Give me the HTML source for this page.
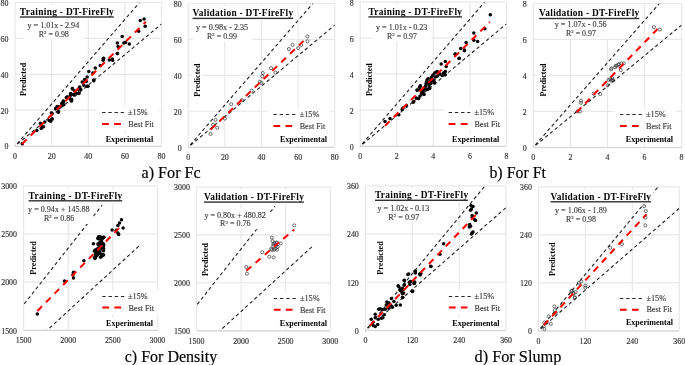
<!DOCTYPE html>
<html><head><meta charset="utf-8"><style>
html,body{margin:0;padding:0;background:#fff;}
body{width:685px;height:365px;overflow:hidden;}
svg{display:block;font-family:"Liberation Serif", serif;will-change:transform;}
</style></head><body>
<svg width="685" height="365" viewBox="0 0 685 365">
<rect width="685" height="365" fill="#fff"/>
<g>
<line x1="15.1" y1="2.5" x2="15.1" y2="146.1" stroke="#e8e8e8" stroke-width="1.2"/>
<line x1="15.1" y1="146.1" x2="161.5" y2="146.1" stroke="#e8e8e8" stroke-width="1.2"/>
<line x1="51.7" y1="2.5" x2="51.7" y2="146.1" stroke="#e8e8e8" stroke-width="1.2"/>
<line x1="15.1" y1="110.2" x2="161.5" y2="110.2" stroke="#e8e8e8" stroke-width="1.2"/>
<line x1="88.3" y1="2.5" x2="88.3" y2="146.1" stroke="#e8e8e8" stroke-width="1.2"/>
<line x1="15.1" y1="74.3" x2="161.5" y2="74.3" stroke="#e8e8e8" stroke-width="1.2"/>
<line x1="124.9" y1="2.5" x2="124.9" y2="146.1" stroke="#e8e8e8" stroke-width="1.2"/>
<line x1="15.1" y1="38.4" x2="161.5" y2="38.4" stroke="#e8e8e8" stroke-width="1.2"/>
<line x1="161.5" y1="2.5" x2="161.5" y2="146.1" stroke="#e8e8e8" stroke-width="1.2"/>
<line x1="15.1" y1="2.5" x2="161.5" y2="2.5" stroke="#e8e8e8" stroke-width="1.2"/>
<line x1="15.1" y1="146.4" x2="161.5" y2="146.4" stroke="#d4d4d4" stroke-width="1"/>
<text x="15.1" y="159.1" font-size="7.9" text-anchor="middle" fill="#333" stroke="#333" stroke-width="0.15">0</text>
<text x="8.5" y="149.4" font-size="7.9" text-anchor="end" fill="#333" stroke="#333" stroke-width="0.15">0</text>
<text x="51.7" y="159.1" font-size="7.9" text-anchor="middle" fill="#333" stroke="#333" stroke-width="0.15">20</text>
<text x="8.5" y="113.5" font-size="7.9" text-anchor="end" fill="#333" stroke="#333" stroke-width="0.15">20</text>
<text x="88.3" y="159.1" font-size="7.9" text-anchor="middle" fill="#333" stroke="#333" stroke-width="0.15">40</text>
<text x="8.5" y="77.6" font-size="7.9" text-anchor="end" fill="#333" stroke="#333" stroke-width="0.15">40</text>
<text x="124.9" y="159.1" font-size="7.9" text-anchor="middle" fill="#333" stroke="#333" stroke-width="0.15">60</text>
<text x="8.5" y="41.7" font-size="7.9" text-anchor="end" fill="#333" stroke="#333" stroke-width="0.15">60</text>
<text x="161.5" y="159.1" font-size="7.9" text-anchor="middle" fill="#333" stroke="#333" stroke-width="0.15">80</text>
<text x="8.5" y="5.8" font-size="7.9" text-anchor="end" fill="#333" stroke="#333" stroke-width="0.15">80</text>
<clipPath id="c_fc_train"><rect x="15.1" y="2.5" width="146.4" height="143.6"/></clipPath>
<g clip-path="url(#c_fc_train)">
<line x1="15.1" y1="146.1" x2="139.54" y2="2.5" stroke="#1e1e1e" stroke-width="1.1" stroke-dasharray="3.4 2.8" stroke-dashoffset="3.1"/>
<line x1="15.1" y1="146.1" x2="161.5" y2="24.04" stroke="#1e1e1e" stroke-width="1.1" stroke-dasharray="3.4 2.8" stroke-dashoffset="3.1"/>
</g>
<circle cx="22.3" cy="143.7" r="1.75"/>
<circle cx="36.8" cy="130.6" r="1.75"/>
<circle cx="40.4" cy="123.3" r="1.75"/>
<circle cx="41.2" cy="128.4" r="1.75"/>
<circle cx="41.9" cy="127" r="1.75"/>
<circle cx="43.5" cy="126.7" r="1.75"/>
<circle cx="44.8" cy="121.9" r="1.75"/>
<circle cx="49.1" cy="120.4" r="1.75"/>
<circle cx="50.6" cy="121.2" r="1.75"/>
<circle cx="52" cy="119" r="1.75"/>
<circle cx="52" cy="113.2" r="1.75"/>
<circle cx="55.7" cy="108.8" r="1.75"/>
<circle cx="57.1" cy="106.6" r="1.75"/>
<circle cx="58.6" cy="111.7" r="1.75"/>
<circle cx="58.6" cy="108" r="1.75"/>
<circle cx="62.2" cy="105.2" r="1.75"/>
<circle cx="63.7" cy="101.5" r="1.75"/>
<circle cx="66.6" cy="97.2" r="1.75"/>
<circle cx="70.2" cy="95.7" r="1.75"/>
<circle cx="71.7" cy="99.4" r="1.75"/>
<circle cx="51.4" cy="112.9" r="1.75"/>
<circle cx="52.1" cy="119" r="1.75"/>
<circle cx="55.5" cy="108.8" r="1.75"/>
<circle cx="58.2" cy="112.2" r="1.75"/>
<circle cx="58.9" cy="106.7" r="1.75"/>
<circle cx="63" cy="101.9" r="1.75"/>
<circle cx="63.7" cy="104.7" r="1.75"/>
<circle cx="66.4" cy="97.8" r="1.75"/>
<circle cx="70.5" cy="93.7" r="1.75"/>
<circle cx="71.2" cy="100.5" r="1.75"/>
<circle cx="72.6" cy="88.9" r="1.75"/>
<circle cx="74" cy="95.1" r="1.75"/>
<circle cx="76" cy="93" r="1.75"/>
<circle cx="78.8" cy="93" r="1.75"/>
<circle cx="79.5" cy="87.5" r="1.75"/>
<circle cx="80.8" cy="89.6" r="1.75"/>
<circle cx="82.2" cy="82.1" r="1.75"/>
<circle cx="87" cy="86.2" r="1.75"/>
<circle cx="86.3" cy="81.4" r="1.75"/>
<circle cx="93.8" cy="80.7" r="1.75"/>
<circle cx="117.5" cy="53.6" r="1.75"/>
<circle cx="103.6" cy="58.2" r="1.75"/>
<circle cx="103.1" cy="60.2" r="1.75"/>
<circle cx="109.3" cy="59.9" r="1.75"/>
<circle cx="112.6" cy="60.2" r="1.75"/>
<circle cx="100.3" cy="65.6" r="1.75"/>
<circle cx="95.3" cy="68.1" r="1.75"/>
<circle cx="88.8" cy="71.4" r="1.75"/>
<circle cx="92.9" cy="73" r="1.75"/>
<circle cx="87.1" cy="77.1" r="1.75"/>
<circle cx="93.7" cy="79.9" r="1.75"/>
<circle cx="84.7" cy="79.6" r="1.75"/>
<circle cx="83.8" cy="85.3" r="1.75"/>
<circle cx="88" cy="86.2" r="1.75"/>
<circle cx="79.7" cy="87" r="1.75"/>
<circle cx="78.1" cy="89.5" r="1.75"/>
<circle cx="72.3" cy="88.6" r="1.75"/>
<circle cx="74.8" cy="91.1" r="1.75"/>
<circle cx="70.7" cy="93.6" r="1.75"/>
<circle cx="73.2" cy="94.4" r="1.75"/>
<circle cx="78.9" cy="93.6" r="1.75"/>
<circle cx="67.4" cy="96.9" r="1.75"/>
<circle cx="69.9" cy="98.5" r="1.75"/>
<circle cx="71.5" cy="101" r="1.75"/>
<circle cx="63.3" cy="101" r="1.75"/>
<circle cx="61.6" cy="103.4" r="1.75"/>
<circle cx="140.3" cy="20.5" r="1.75"/>
<circle cx="144.1" cy="18.9" r="1.75"/>
<circle cx="145.2" cy="26.3" r="1.75"/>
<circle cx="138.6" cy="31.2" r="1.75"/>
<circle cx="122.2" cy="36.5" r="1.75"/>
<circle cx="117.3" cy="43.1" r="1.75"/>
<circle cx="118.1" cy="46.4" r="1.75"/>
<circle cx="123.8" cy="43.1" r="1.75"/>
<circle cx="125.5" cy="42.4" r="1.75"/>
<circle cx="129.3" cy="44.1" r="1.75"/>
<circle cx="117.3" cy="53.4" r="1.75"/>
<circle cx="103.3" cy="58.4" r="1.75"/>
<circle cx="112.3" cy="58.9" r="1.75"/>
<line x1="22" y1="144" x2="145.9" y2="21.7" stroke="#ff0000" stroke-width="2" stroke-dasharray="6.6 5.6"/>
<rect x="17.8" y="4.8" width="98.5" height="14.3" fill="#fff"/>
<rect x="24.5" y="18.1" width="58.3" height="21.3" fill="#fff"/>
<rect x="17.7" y="60.8" width="10" height="37.3" fill="#fff"/>
<rect x="96.8" y="106.8" width="61.6" height="24.2" fill="#fff"/>
<rect x="103.7" y="133.7" width="51.5" height="11" fill="#fff"/>
<text x="19.8" y="14.8" font-size="9.4" font-weight="bold" text-anchor="start" textLength="94" lengthAdjust="spacing">Training - DT-FireFly</text>
<rect x="19.8" y="16.3" width="94" height="1.4" fill="#333"/>
<text x="27.5" y="27.6" font-size="8" text-anchor="start" textLength="51.7" lengthAdjust="spacingAndGlyphs" fill="#404040" stroke="#404040" stroke-width="0.15">y = 1.01x - 2.94</text>
<text x="38.8" y="36.6" font-size="8" fill="#404040" stroke="#404040" stroke-width="0.15" textLength="30" lengthAdjust="spacingAndGlyphs">R<tspan font-size="5" dy="-2.8">2</tspan><tspan dy="2.8"> = 0.98</tspan></text>
<text transform="translate(25.8,79.45) rotate(-90)" x="0" y="0" font-size="8.1" font-weight="bold" text-anchor="middle" textLength="33.3" lengthAdjust="spacingAndGlyphs">Predicted</text>
<line x1="102.1" y1="112.5" x2="124" y2="112.5" stroke="#1e1e1e" stroke-width="0.95" stroke-dasharray="3.4 2.8"/>
<line x1="102.1" y1="124" x2="121.1" y2="124" stroke="#ff0000" stroke-width="2" stroke-dasharray="6.8 5.2"/>
<text x="128" y="115.3" font-size="8" text-anchor="start" textLength="19.7" lengthAdjust="spacingAndGlyphs" fill="#404040" stroke="#404040" stroke-width="0.15">±15%</text>
<text x="128.3" y="127" font-size="8" text-anchor="start" textLength="25.6" lengthAdjust="spacingAndGlyphs" fill="#404040" stroke="#404040" stroke-width="0.15">Best Fit</text>
<text x="105.7" y="142.1" font-size="8.1" font-weight="bold" text-anchor="start" textLength="47.5" lengthAdjust="spacingAndGlyphs">Experimental</text>
</g>
<g>
<line x1="188.2" y1="3.5" x2="188.2" y2="147.2" stroke="#e8e8e8" stroke-width="1.2"/>
<line x1="188.2" y1="147.2" x2="334.8" y2="147.2" stroke="#e8e8e8" stroke-width="1.2"/>
<line x1="224.85" y1="3.5" x2="224.85" y2="147.2" stroke="#e8e8e8" stroke-width="1.2"/>
<line x1="188.2" y1="111.27" x2="334.8" y2="111.27" stroke="#e8e8e8" stroke-width="1.2"/>
<line x1="261.5" y1="3.5" x2="261.5" y2="147.2" stroke="#e8e8e8" stroke-width="1.2"/>
<line x1="188.2" y1="75.35" x2="334.8" y2="75.35" stroke="#e8e8e8" stroke-width="1.2"/>
<line x1="298.15" y1="3.5" x2="298.15" y2="147.2" stroke="#e8e8e8" stroke-width="1.2"/>
<line x1="188.2" y1="39.42" x2="334.8" y2="39.42" stroke="#e8e8e8" stroke-width="1.2"/>
<line x1="334.8" y1="3.5" x2="334.8" y2="147.2" stroke="#e8e8e8" stroke-width="1.2"/>
<line x1="188.2" y1="3.5" x2="334.8" y2="3.5" stroke="#e8e8e8" stroke-width="1.2"/>
<line x1="188.2" y1="147.5" x2="334.8" y2="147.5" stroke="#d4d4d4" stroke-width="1"/>
<text x="188.2" y="160.2" font-size="7.9" text-anchor="middle" fill="#333" stroke="#333" stroke-width="0.15">0</text>
<text x="181.6" y="150.5" font-size="7.9" text-anchor="end" fill="#333" stroke="#333" stroke-width="0.15">0</text>
<text x="224.85" y="160.2" font-size="7.9" text-anchor="middle" fill="#333" stroke="#333" stroke-width="0.15">20</text>
<text x="181.6" y="114.57" font-size="7.9" text-anchor="end" fill="#333" stroke="#333" stroke-width="0.15">20</text>
<text x="261.5" y="160.2" font-size="7.9" text-anchor="middle" fill="#333" stroke="#333" stroke-width="0.15">40</text>
<text x="181.6" y="78.65" font-size="7.9" text-anchor="end" fill="#333" stroke="#333" stroke-width="0.15">40</text>
<text x="298.15" y="160.2" font-size="7.9" text-anchor="middle" fill="#333" stroke="#333" stroke-width="0.15">60</text>
<text x="181.6" y="42.72" font-size="7.9" text-anchor="end" fill="#333" stroke="#333" stroke-width="0.15">60</text>
<text x="334.8" y="160.2" font-size="7.9" text-anchor="middle" fill="#333" stroke="#333" stroke-width="0.15">80</text>
<text x="181.6" y="6.8" font-size="7.9" text-anchor="end" fill="#333" stroke="#333" stroke-width="0.15">80</text>
<clipPath id="c_fc_val"><rect x="188.2" y="3.5" width="146.6" height="143.7"/></clipPath>
<g clip-path="url(#c_fc_val)">
<line x1="188.2" y1="147.2" x2="312.81" y2="3.5" stroke="#1e1e1e" stroke-width="1.1" stroke-dasharray="3.4 2.8" stroke-dashoffset="3.1"/>
<line x1="188.2" y1="147.2" x2="334.8" y2="25.06" stroke="#1e1e1e" stroke-width="1.1" stroke-dasharray="3.4 2.8" stroke-dashoffset="3.1"/>
</g>
<circle cx="210.6" cy="133.9" r="1.55" fill="none" stroke="#333" stroke-width="0.7"/>
<circle cx="213.1" cy="124.7" r="1.55" fill="none" stroke="#333" stroke-width="0.7"/>
<circle cx="215.5" cy="119.9" r="1.55" fill="none" stroke="#333" stroke-width="0.7"/>
<circle cx="217.2" cy="127.7" r="1.55" fill="none" stroke="#333" stroke-width="0.7"/>
<circle cx="224.9" cy="118.6" r="1.55" fill="none" stroke="#333" stroke-width="0.7"/>
<circle cx="231.2" cy="104.2" r="1.55" fill="none" stroke="#333" stroke-width="0.7"/>
<circle cx="241.9" cy="100.1" r="1.55" fill="none" stroke="#333" stroke-width="0.7"/>
<circle cx="251.7" cy="90.7" r="1.55" fill="none" stroke="#333" stroke-width="0.7"/>
<circle cx="262.8" cy="73" r="1.55" fill="none" stroke="#333" stroke-width="0.7"/>
<circle cx="262.3" cy="76.3" r="1.55" fill="none" stroke="#333" stroke-width="0.7"/>
<circle cx="259.8" cy="81.7" r="1.55" fill="none" stroke="#333" stroke-width="0.7"/>
<circle cx="261.4" cy="82.9" r="1.55" fill="none" stroke="#333" stroke-width="0.7"/>
<circle cx="271" cy="68.1" r="1.55" fill="none" stroke="#333" stroke-width="0.7"/>
<circle cx="275.4" cy="72.7" r="1.55" fill="none" stroke="#333" stroke-width="0.7"/>
<circle cx="288.9" cy="49" r="1.55" fill="none" stroke="#333" stroke-width="0.7"/>
<circle cx="292.6" cy="44.9" r="1.55" fill="none" stroke="#333" stroke-width="0.7"/>
<circle cx="298.1" cy="48.1" r="1.55" fill="none" stroke="#333" stroke-width="0.7"/>
<circle cx="301.2" cy="44.9" r="1.55" fill="none" stroke="#333" stroke-width="0.7"/>
<circle cx="307.4" cy="36.4" r="1.55" fill="none" stroke="#333" stroke-width="0.7"/>
<circle cx="307.4" cy="41.2" r="1.55" fill="none" stroke="#333" stroke-width="0.7"/>
<line x1="210.6" y1="129.6" x2="303.6" y2="40.9" stroke="#ff0000" stroke-width="2" stroke-dasharray="6.6 5.6"/>
<rect x="190.5" y="6.1" width="105.2" height="14.4" fill="#fff"/>
<rect x="193" y="20.2" width="58.8" height="21.1" fill="#fff"/>
<rect x="191.8" y="61.5" width="10" height="37.3" fill="#fff"/>
<rect x="268.1" y="108.5" width="61.6" height="24.3" fill="#fff"/>
<rect x="277.9" y="133.5" width="51.2" height="11" fill="#fff"/>
<text x="192.5" y="16.1" font-size="9.4" font-weight="bold" text-anchor="start" textLength="100.7" lengthAdjust="spacing">Validation - DT-FireFly</text>
<rect x="192.5" y="17.7" width="100.7" height="1.4" fill="#333"/>
<text x="196" y="29.7" font-size="8" text-anchor="start" textLength="52.2" lengthAdjust="spacingAndGlyphs" fill="#404040" stroke="#404040" stroke-width="0.15">y = 0.98x - 2.35</text>
<text x="207" y="38.5" font-size="8" fill="#404040" stroke="#404040" stroke-width="0.15" textLength="30" lengthAdjust="spacingAndGlyphs">R<tspan font-size="5" dy="-2.8">2</tspan><tspan dy="2.8"> = 0.99</tspan></text>
<text transform="translate(199.9,80.15) rotate(-90)" x="0" y="0" font-size="8.1" font-weight="bold" text-anchor="middle" textLength="33.3" lengthAdjust="spacingAndGlyphs">Predicted</text>
<line x1="273.4" y1="114.5" x2="295.9" y2="114.5" stroke="#1e1e1e" stroke-width="0.95" stroke-dasharray="3.4 2.8"/>
<line x1="273.4" y1="126" x2="292.9" y2="126" stroke="#ff0000" stroke-width="2" stroke-dasharray="6.8 5.2"/>
<text x="299.7" y="117.1" font-size="8" text-anchor="start" textLength="19.7" lengthAdjust="spacingAndGlyphs" fill="#404040" stroke="#404040" stroke-width="0.15">±15%</text>
<text x="299.7" y="128.8" font-size="8" text-anchor="start" textLength="25.6" lengthAdjust="spacingAndGlyphs" fill="#404040" stroke="#404040" stroke-width="0.15">Best Fit</text>
<text x="279.9" y="141.9" font-size="8.1" font-weight="bold" text-anchor="start" textLength="47.2" lengthAdjust="spacingAndGlyphs">Experimental</text>
</g>
<g>
<line x1="360.2" y1="2.2" x2="360.2" y2="146.2" stroke="#e8e8e8" stroke-width="1.2"/>
<line x1="360.2" y1="146.2" x2="506.5" y2="146.2" stroke="#e8e8e8" stroke-width="1.2"/>
<line x1="396.77" y1="2.2" x2="396.77" y2="146.2" stroke="#e8e8e8" stroke-width="1.2"/>
<line x1="360.2" y1="110.2" x2="506.5" y2="110.2" stroke="#e8e8e8" stroke-width="1.2"/>
<line x1="433.35" y1="2.2" x2="433.35" y2="146.2" stroke="#e8e8e8" stroke-width="1.2"/>
<line x1="360.2" y1="74.2" x2="506.5" y2="74.2" stroke="#e8e8e8" stroke-width="1.2"/>
<line x1="469.93" y1="2.2" x2="469.93" y2="146.2" stroke="#e8e8e8" stroke-width="1.2"/>
<line x1="360.2" y1="38.2" x2="506.5" y2="38.2" stroke="#e8e8e8" stroke-width="1.2"/>
<line x1="506.5" y1="2.2" x2="506.5" y2="146.2" stroke="#e8e8e8" stroke-width="1.2"/>
<line x1="360.2" y1="2.2" x2="506.5" y2="2.2" stroke="#e8e8e8" stroke-width="1.2"/>
<line x1="360.2" y1="146.5" x2="506.5" y2="146.5" stroke="#d4d4d4" stroke-width="1"/>
<text x="360.2" y="159.2" font-size="7.9" text-anchor="middle" fill="#333" stroke="#333" stroke-width="0.15">0</text>
<text x="353.6" y="149.5" font-size="7.9" text-anchor="end" fill="#333" stroke="#333" stroke-width="0.15">0</text>
<text x="396.77" y="159.2" font-size="7.9" text-anchor="middle" fill="#333" stroke="#333" stroke-width="0.15">2</text>
<text x="353.6" y="113.5" font-size="7.9" text-anchor="end" fill="#333" stroke="#333" stroke-width="0.15">2</text>
<text x="433.35" y="159.2" font-size="7.9" text-anchor="middle" fill="#333" stroke="#333" stroke-width="0.15">4</text>
<text x="353.6" y="77.5" font-size="7.9" text-anchor="end" fill="#333" stroke="#333" stroke-width="0.15">4</text>
<text x="469.93" y="159.2" font-size="7.9" text-anchor="middle" fill="#333" stroke="#333" stroke-width="0.15">6</text>
<text x="353.6" y="41.5" font-size="7.9" text-anchor="end" fill="#333" stroke="#333" stroke-width="0.15">6</text>
<text x="506.5" y="159.2" font-size="7.9" text-anchor="middle" fill="#333" stroke="#333" stroke-width="0.15">8</text>
<text x="353.6" y="5.5" font-size="7.9" text-anchor="end" fill="#333" stroke="#333" stroke-width="0.15">8</text>
<clipPath id="c_ft_train"><rect x="360.2" y="2.2" width="146.3" height="144"/></clipPath>
<g clip-path="url(#c_ft_train)">
<line x1="360.2" y1="146.2" x2="484.56" y2="2.2" stroke="#1e1e1e" stroke-width="1.1" stroke-dasharray="3.4 2.8" stroke-dashoffset="3.1"/>
<line x1="360.2" y1="146.2" x2="506.5" y2="23.8" stroke="#1e1e1e" stroke-width="1.1" stroke-dasharray="3.4 2.8" stroke-dashoffset="3.1"/>
</g>
<circle cx="385" cy="121.4" r="1.75"/>
<circle cx="390" cy="118.4" r="1.75"/>
<circle cx="398.8" cy="114.7" r="1.75"/>
<circle cx="402.2" cy="109.6" r="1.75"/>
<circle cx="403" cy="107.9" r="1.75"/>
<circle cx="406.3" cy="105.5" r="1.75"/>
<circle cx="413.7" cy="101.4" r="1.75"/>
<circle cx="416.2" cy="98.1" r="1.75"/>
<circle cx="418.6" cy="98.4" r="1.75"/>
<circle cx="417" cy="89.9" r="1.75"/>
<circle cx="419.5" cy="87.4" r="1.75"/>
<circle cx="420.3" cy="85.8" r="1.75"/>
<circle cx="423.6" cy="94" r="1.75"/>
<circle cx="422.7" cy="91.5" r="1.75"/>
<circle cx="425.2" cy="89" r="1.75"/>
<circle cx="429.3" cy="87.4" r="1.75"/>
<circle cx="427.7" cy="82.5" r="1.75"/>
<circle cx="431" cy="83.3" r="1.75"/>
<circle cx="434.3" cy="82.5" r="1.75"/>
<circle cx="413.3" cy="102.3" r="1.75"/>
<circle cx="418.2" cy="98.5" r="1.75"/>
<circle cx="417.4" cy="90.3" r="1.75"/>
<circle cx="419.9" cy="87" r="1.75"/>
<circle cx="421.5" cy="93.6" r="1.75"/>
<circle cx="424" cy="94.4" r="1.75"/>
<circle cx="423.2" cy="90.3" r="1.75"/>
<circle cx="425.6" cy="86.2" r="1.75"/>
<circle cx="426.4" cy="82.1" r="1.75"/>
<circle cx="428.1" cy="78.8" r="1.75"/>
<circle cx="429.7" cy="83.7" r="1.75"/>
<circle cx="429.7" cy="88.6" r="1.75"/>
<circle cx="432.2" cy="80.4" r="1.75"/>
<circle cx="432.2" cy="76.3" r="1.75"/>
<circle cx="434.7" cy="73" r="1.75"/>
<circle cx="434.7" cy="82.9" r="1.75"/>
<circle cx="435.5" cy="77.1" r="1.75"/>
<circle cx="437.1" cy="71.4" r="1.75"/>
<circle cx="438.8" cy="73.8" r="1.75"/>
<circle cx="442.1" cy="75.5" r="1.75"/>
<circle cx="445.3" cy="71.4" r="1.75"/>
<circle cx="445.3" cy="74.7" r="1.75"/>
<circle cx="441.2" cy="64" r="1.75"/>
<circle cx="445.3" cy="61.5" r="1.75"/>
<circle cx="446.2" cy="66.4" r="1.75"/>
<circle cx="455.2" cy="54.1" r="1.75"/>
<circle cx="459.3" cy="58.2" r="1.75"/>
<circle cx="464.3" cy="50.8" r="1.75"/>
<circle cx="490.3" cy="14.8" r="1.75"/>
<circle cx="484.9" cy="28.8" r="1.75"/>
<circle cx="473.8" cy="32.9" r="1.75"/>
<circle cx="473.8" cy="40.3" r="1.75"/>
<circle cx="477.6" cy="41.4" r="1.75"/>
<circle cx="466.1" cy="42.4" r="1.75"/>
<circle cx="460.7" cy="48.5" r="1.75"/>
<circle cx="464.5" cy="50.1" r="1.75"/>
<circle cx="455.3" cy="54.2" r="1.75"/>
<circle cx="459" cy="58.4" r="1.75"/>
<circle cx="427" cy="80" r="1.75"/>
<circle cx="429" cy="85" r="1.75"/>
<circle cx="426" cy="84" r="1.75"/>
<circle cx="431" cy="78" r="1.75"/>
<circle cx="433" cy="75" r="1.75"/>
<circle cx="436" cy="72.5" r="1.75"/>
<circle cx="437.5" cy="76" r="1.75"/>
<circle cx="430.5" cy="81" r="1.75"/>
<circle cx="424" cy="88" r="1.75"/>
<circle cx="427.5" cy="89.5" r="1.75"/>
<circle cx="420.5" cy="90" r="1.75"/>
<circle cx="434" cy="80" r="1.75"/>
<circle cx="440" cy="74" r="1.75"/>
<circle cx="443.5" cy="73" r="1.75"/>
<circle cx="420" cy="96" r="1.75"/>
<line x1="385" y1="125.8" x2="489.8" y2="22" stroke="#ff0000" stroke-width="2" stroke-dasharray="6.6 5.6"/>
<rect x="366.4" y="4.8" width="98.1" height="14.2" fill="#fff"/>
<rect x="373.1" y="20.5" width="57.9" height="21.3" fill="#fff"/>
<rect x="364" y="61.2" width="10" height="36.9" fill="#fff"/>
<rect x="443.4" y="106.8" width="61.6" height="23.9" fill="#fff"/>
<rect x="450.1" y="133.7" width="51.2" height="11" fill="#fff"/>
<text x="368.4" y="14.8" font-size="9.4" font-weight="bold" text-anchor="start" textLength="93.6" lengthAdjust="spacing">Training - DT-FireFly</text>
<rect x="368.4" y="16.2" width="93.6" height="1.4" fill="#333"/>
<text x="376.1" y="30" font-size="8" text-anchor="start" textLength="51.3" lengthAdjust="spacingAndGlyphs" fill="#404040" stroke="#404040" stroke-width="0.15">y = 1.01x - 0.23</text>
<text x="387" y="39" font-size="8" fill="#404040" stroke="#404040" stroke-width="0.15" textLength="30" lengthAdjust="spacingAndGlyphs">R<tspan font-size="5" dy="-2.8">2</tspan><tspan dy="2.8"> = 0.97</tspan></text>
<text transform="translate(372.1,79.65) rotate(-90)" x="0" y="0" font-size="8.1" font-weight="bold" text-anchor="middle" textLength="32.9" lengthAdjust="spacingAndGlyphs">Predicted</text>
<line x1="448.7" y1="112.5" x2="470.3" y2="112.5" stroke="#1e1e1e" stroke-width="0.95" stroke-dasharray="3.4 2.8"/>
<line x1="448.7" y1="124.1" x2="467.6" y2="124.1" stroke="#ff0000" stroke-width="2" stroke-dasharray="6.8 5.2"/>
<text x="474.4" y="115" font-size="8" text-anchor="start" textLength="19.7" lengthAdjust="spacingAndGlyphs" fill="#404040" stroke="#404040" stroke-width="0.15">±15%</text>
<text x="474.4" y="126.7" font-size="8" text-anchor="start" textLength="25.6" lengthAdjust="spacingAndGlyphs" fill="#404040" stroke="#404040" stroke-width="0.15">Best Fit</text>
<text x="452.1" y="142.1" font-size="8.1" font-weight="bold" text-anchor="start" textLength="47.2" lengthAdjust="spacingAndGlyphs">Experimental</text>
</g>
<g>
<line x1="533.3" y1="3.5" x2="533.3" y2="147.3" stroke="#e8e8e8" stroke-width="1.2"/>
<line x1="533.3" y1="147.3" x2="681.6" y2="147.3" stroke="#e8e8e8" stroke-width="1.2"/>
<line x1="570.38" y1="3.5" x2="570.38" y2="147.3" stroke="#e8e8e8" stroke-width="1.2"/>
<line x1="533.3" y1="111.35" x2="681.6" y2="111.35" stroke="#e8e8e8" stroke-width="1.2"/>
<line x1="607.45" y1="3.5" x2="607.45" y2="147.3" stroke="#e8e8e8" stroke-width="1.2"/>
<line x1="533.3" y1="75.4" x2="681.6" y2="75.4" stroke="#e8e8e8" stroke-width="1.2"/>
<line x1="644.52" y1="3.5" x2="644.52" y2="147.3" stroke="#e8e8e8" stroke-width="1.2"/>
<line x1="533.3" y1="39.45" x2="681.6" y2="39.45" stroke="#e8e8e8" stroke-width="1.2"/>
<line x1="681.6" y1="3.5" x2="681.6" y2="147.3" stroke="#e8e8e8" stroke-width="1.2"/>
<line x1="533.3" y1="3.5" x2="681.6" y2="3.5" stroke="#e8e8e8" stroke-width="1.2"/>
<line x1="533.3" y1="147.6" x2="681.6" y2="147.6" stroke="#d4d4d4" stroke-width="1"/>
<text x="533.3" y="160.3" font-size="7.9" text-anchor="middle" fill="#333" stroke="#333" stroke-width="0.15">0</text>
<text x="526.7" y="150.6" font-size="7.9" text-anchor="end" fill="#333" stroke="#333" stroke-width="0.15">0</text>
<text x="570.38" y="160.3" font-size="7.9" text-anchor="middle" fill="#333" stroke="#333" stroke-width="0.15">2</text>
<text x="526.7" y="114.65" font-size="7.9" text-anchor="end" fill="#333" stroke="#333" stroke-width="0.15">2</text>
<text x="607.45" y="160.3" font-size="7.9" text-anchor="middle" fill="#333" stroke="#333" stroke-width="0.15">4</text>
<text x="526.7" y="78.7" font-size="7.9" text-anchor="end" fill="#333" stroke="#333" stroke-width="0.15">4</text>
<text x="644.52" y="160.3" font-size="7.9" text-anchor="middle" fill="#333" stroke="#333" stroke-width="0.15">6</text>
<text x="526.7" y="42.75" font-size="7.9" text-anchor="end" fill="#333" stroke="#333" stroke-width="0.15">6</text>
<text x="681.6" y="160.3" font-size="7.9" text-anchor="middle" fill="#333" stroke="#333" stroke-width="0.15">8</text>
<text x="526.7" y="6.8" font-size="7.9" text-anchor="end" fill="#333" stroke="#333" stroke-width="0.15">8</text>
<clipPath id="c_ft_val"><rect x="533.3" y="3.5" width="148.3" height="143.8"/></clipPath>
<g clip-path="url(#c_ft_val)">
<line x1="533.3" y1="147.3" x2="659.36" y2="3.5" stroke="#1e1e1e" stroke-width="1.1" stroke-dasharray="3.4 2.8" stroke-dashoffset="3.1"/>
<line x1="533.3" y1="147.3" x2="681.6" y2="25.07" stroke="#1e1e1e" stroke-width="1.1" stroke-dasharray="3.4 2.8" stroke-dashoffset="3.1"/>
</g>
<circle cx="577.4" cy="111.4" r="1.55" fill="none" stroke="#333" stroke-width="0.7"/>
<circle cx="579.9" cy="111.4" r="1.55" fill="none" stroke="#333" stroke-width="0.7"/>
<circle cx="581" cy="100.7" r="1.55" fill="none" stroke="#333" stroke-width="0.7"/>
<circle cx="581" cy="102.8" r="1.55" fill="none" stroke="#333" stroke-width="0.7"/>
<circle cx="593.7" cy="93.6" r="1.55" fill="none" stroke="#333" stroke-width="0.7"/>
<circle cx="600.3" cy="94.1" r="1.55" fill="none" stroke="#333" stroke-width="0.7"/>
<circle cx="607.7" cy="85.3" r="1.55" fill="none" stroke="#333" stroke-width="0.7"/>
<circle cx="608.5" cy="79.9" r="1.55" fill="none" stroke="#333" stroke-width="0.7"/>
<circle cx="610.1" cy="79.3" r="1.55" fill="none" stroke="#333" stroke-width="0.7"/>
<circle cx="612.3" cy="79.9" r="1.55" fill="none" stroke="#333" stroke-width="0.7"/>
<circle cx="613.4" cy="80.4" r="1.55" fill="none" stroke="#333" stroke-width="0.7"/>
<circle cx="611" cy="69.4" r="1.55" fill="none" stroke="#333" stroke-width="0.7"/>
<circle cx="615.1" cy="67.3" r="1.55" fill="none" stroke="#333" stroke-width="0.7"/>
<circle cx="616.7" cy="65.6" r="1.55" fill="none" stroke="#333" stroke-width="0.7"/>
<circle cx="618.4" cy="64.8" r="1.55" fill="none" stroke="#333" stroke-width="0.7"/>
<circle cx="611.5" cy="68.4" r="1.55" fill="none" stroke="#333" stroke-width="0.7"/>
<circle cx="615.6" cy="65.9" r="1.55" fill="none" stroke="#333" stroke-width="0.7"/>
<circle cx="618.9" cy="64.2" r="1.55" fill="none" stroke="#333" stroke-width="0.7"/>
<circle cx="621.4" cy="63.4" r="1.55" fill="none" stroke="#333" stroke-width="0.7"/>
<circle cx="623.8" cy="63.4" r="1.55" fill="none" stroke="#333" stroke-width="0.7"/>
<circle cx="653.9" cy="27.1" r="1.55" fill="none" stroke="#333" stroke-width="0.7"/>
<circle cx="659.9" cy="29.5" r="1.55" fill="none" stroke="#333" stroke-width="0.7"/>
<circle cx="620.8" cy="70.1" r="1.55" fill="none" stroke="#333" stroke-width="0.7"/>
<circle cx="612.2" cy="78.2" r="1.55" fill="none" stroke="#333" stroke-width="0.7"/>
<circle cx="611.5" cy="80.6" r="1.55" fill="none" stroke="#333" stroke-width="0.7"/>
<line x1="576.6" y1="112.2" x2="657.5" y2="29" stroke="#ff0000" stroke-width="2" stroke-dasharray="6.6 5.6"/>
<rect x="537.1" y="6.1" width="104.7" height="14.5" fill="#fff"/>
<rect x="551.7" y="17.8" width="58.5" height="21.1" fill="#fff"/>
<rect x="537.6" y="61.5" width="10" height="37" fill="#fff"/>
<rect x="614.7" y="108.2" width="61.6" height="24.5" fill="#fff"/>
<rect x="623.8" y="133.1" width="51.2" height="11" fill="#fff"/>
<text x="539.1" y="16.1" font-size="9.4" font-weight="bold" text-anchor="start" textLength="100.2" lengthAdjust="spacing">Validation - DT-FireFly</text>
<rect x="539.1" y="17.8" width="100.2" height="1.4" fill="#333"/>
<text x="554.7" y="27.3" font-size="8" text-anchor="start" textLength="51.9" lengthAdjust="spacingAndGlyphs" fill="#404040" stroke="#404040" stroke-width="0.15">y = 1.07x - 0.56</text>
<text x="565.9" y="36.1" font-size="8" fill="#404040" stroke="#404040" stroke-width="0.15" textLength="30.1" lengthAdjust="spacingAndGlyphs">R<tspan font-size="5" dy="-2.8">2</tspan><tspan dy="2.8"> = 0.97</tspan></text>
<text transform="translate(545.7,80) rotate(-90)" x="0" y="0" font-size="8.1" font-weight="bold" text-anchor="middle" textLength="33" lengthAdjust="spacingAndGlyphs">Predicted</text>
<line x1="620" y1="114.5" x2="641.9" y2="114.5" stroke="#1e1e1e" stroke-width="0.95" stroke-dasharray="3.4 2.8"/>
<line x1="620" y1="126" x2="638.8" y2="126" stroke="#ff0000" stroke-width="2" stroke-dasharray="6.8 5.2"/>
<text x="646" y="116.7" font-size="8" text-anchor="start" textLength="19.7" lengthAdjust="spacingAndGlyphs" fill="#404040" stroke="#404040" stroke-width="0.15">±15%</text>
<text x="646" y="128.7" font-size="8" text-anchor="start" textLength="25.6" lengthAdjust="spacingAndGlyphs" fill="#404040" stroke="#404040" stroke-width="0.15">Best Fit</text>
<text x="625.8" y="141.5" font-size="8.1" font-weight="bold" text-anchor="start" textLength="47.2" lengthAdjust="spacingAndGlyphs">Experimental</text>
</g>
<g>
<line x1="23.6" y1="185.9" x2="23.6" y2="330.2" stroke="#e8e8e8" stroke-width="1.2"/>
<line x1="23.6" y1="330.2" x2="157.4" y2="330.2" stroke="#e8e8e8" stroke-width="1.2"/>
<line x1="68.2" y1="185.9" x2="68.2" y2="330.2" stroke="#e8e8e8" stroke-width="1.2"/>
<line x1="23.6" y1="282.1" x2="157.4" y2="282.1" stroke="#e8e8e8" stroke-width="1.2"/>
<line x1="112.8" y1="185.9" x2="112.8" y2="330.2" stroke="#e8e8e8" stroke-width="1.2"/>
<line x1="23.6" y1="234" x2="157.4" y2="234" stroke="#e8e8e8" stroke-width="1.2"/>
<line x1="157.4" y1="185.9" x2="157.4" y2="330.2" stroke="#e8e8e8" stroke-width="1.2"/>
<line x1="23.6" y1="185.9" x2="157.4" y2="185.9" stroke="#e8e8e8" stroke-width="1.2"/>
<line x1="23.6" y1="330.5" x2="157.4" y2="330.5" stroke="#d4d4d4" stroke-width="1"/>
<text x="23.6" y="343.2" font-size="7.9" text-anchor="middle" fill="#333" stroke="#333" stroke-width="0.15">1500</text>
<text x="17" y="333.5" font-size="7.9" text-anchor="end" fill="#333" stroke="#333" stroke-width="0.15">1500</text>
<text x="68.2" y="343.2" font-size="7.9" text-anchor="middle" fill="#333" stroke="#333" stroke-width="0.15">2000</text>
<text x="17" y="285.4" font-size="7.9" text-anchor="end" fill="#333" stroke="#333" stroke-width="0.15">2000</text>
<text x="112.8" y="343.2" font-size="7.9" text-anchor="middle" fill="#333" stroke="#333" stroke-width="0.15">2500</text>
<text x="17" y="237.3" font-size="7.9" text-anchor="end" fill="#333" stroke="#333" stroke-width="0.15">2500</text>
<text x="157.4" y="343.2" font-size="7.9" text-anchor="middle" fill="#333" stroke="#333" stroke-width="0.15">3000</text>
<text x="17" y="189.2" font-size="7.9" text-anchor="end" fill="#333" stroke="#333" stroke-width="0.15">3000</text>
<clipPath id="c_den_train"><rect x="23.6" y="185.9" width="133.8" height="144.3"/></clipPath>
<g clip-path="url(#c_den_train)">
<line x1="23.6" y1="304.74" x2="102.1" y2="205.14" stroke="#1e1e1e" stroke-width="1.1" stroke-dasharray="3.4 2.8" stroke-dashoffset="5.1"/>
<line x1="47.21" y1="330.2" x2="139.56" y2="245.54" stroke="#1e1e1e" stroke-width="1.1" stroke-dasharray="3.4 2.8" stroke-dashoffset="3.1"/>
</g>
<circle cx="37.3" cy="313.9" r="1.75"/>
<circle cx="64.5" cy="281" r="1.75"/>
<circle cx="73.5" cy="272.3" r="1.75"/>
<circle cx="73" cy="274.7" r="1.75"/>
<circle cx="73.5" cy="278" r="1.75"/>
<circle cx="83.9" cy="260.8" r="1.75"/>
<circle cx="121.5" cy="219.7" r="1.75"/>
<circle cx="119.5" cy="223" r="1.75"/>
<circle cx="117.9" cy="225.4" r="1.75"/>
<circle cx="123.1" cy="227.9" r="1.75"/>
<circle cx="112.1" cy="229.9" r="1.75"/>
<circle cx="116.2" cy="230.3" r="1.75"/>
<circle cx="118.7" cy="234.5" r="1.75"/>
<circle cx="117.9" cy="233.1" r="1.75"/>
<circle cx="93.4" cy="243.8" r="1.75"/>
<circle cx="95" cy="258.3" r="1.75"/>
<circle cx="98.61" cy="243.76" r="1.75"/>
<circle cx="94.7" cy="250.8" r="1.75"/>
<circle cx="100.05" cy="248.32" r="1.75"/>
<circle cx="101" cy="238.05" r="1.75"/>
<circle cx="100.51" cy="237.61" r="1.75"/>
<circle cx="98.21" cy="238.3" r="1.75"/>
<circle cx="103.14" cy="245.93" r="1.75"/>
<circle cx="103.1" cy="250.29" r="1.75"/>
<circle cx="97.81" cy="249.21" r="1.75"/>
<circle cx="94.45" cy="257.79" r="1.75"/>
<circle cx="96.78" cy="255.26" r="1.75"/>
<circle cx="103.07" cy="243.43" r="1.75"/>
<circle cx="101.5" cy="240.69" r="1.75"/>
<circle cx="97.58" cy="250.54" r="1.75"/>
<circle cx="98.02" cy="248.58" r="1.75"/>
<circle cx="98.98" cy="238.08" r="1.75"/>
<circle cx="98.1" cy="251.43" r="1.75"/>
<circle cx="101.52" cy="243.55" r="1.75"/>
<circle cx="99.61" cy="246.54" r="1.75"/>
<circle cx="100.71" cy="253.88" r="1.75"/>
<circle cx="101.45" cy="242.05" r="1.75"/>
<circle cx="103.46" cy="248.09" r="1.75"/>
<circle cx="96.76" cy="252.48" r="1.75"/>
<circle cx="95.13" cy="257.87" r="1.75"/>
<circle cx="102.67" cy="245.79" r="1.75"/>
<circle cx="102.08" cy="237.64" r="1.75"/>
<circle cx="99.5" cy="253.24" r="1.75"/>
<circle cx="97.01" cy="255.62" r="1.75"/>
<circle cx="99.71" cy="251.75" r="1.75"/>
<circle cx="98.38" cy="249.27" r="1.75"/>
<circle cx="103.07" cy="254.86" r="1.75"/>
<circle cx="102.05" cy="246.99" r="1.75"/>
<circle cx="102.3" cy="238.1" r="1.75"/>
<circle cx="103.53" cy="250.71" r="1.75"/>
<circle cx="96.73" cy="254.47" r="1.75"/>
<circle cx="102.08" cy="245.09" r="1.75"/>
<circle cx="100.69" cy="237.29" r="1.75"/>
<circle cx="102.75" cy="238.07" r="1.75"/>
<circle cx="103.44" cy="245.21" r="1.75"/>
<circle cx="100.61" cy="238.53" r="1.75"/>
<circle cx="103.52" cy="248.61" r="1.75"/>
<circle cx="102.29" cy="254.41" r="1.75"/>
<circle cx="100.38" cy="242.79" r="1.75"/>
<circle cx="103.52" cy="244.51" r="1.75"/>
<circle cx="95.45" cy="257.39" r="1.75"/>
<circle cx="96.52" cy="249.47" r="1.75"/>
<circle cx="100.41" cy="236.89" r="1.75"/>
<circle cx="101.39" cy="244.74" r="1.75"/>
<circle cx="100.63" cy="257.29" r="1.75"/>
<circle cx="101.74" cy="247.88" r="1.75"/>
<circle cx="94.52" cy="251.34" r="1.75"/>
<circle cx="101.49" cy="256.14" r="1.75"/>
<circle cx="101.66" cy="255.6" r="1.75"/>
<circle cx="100.27" cy="245.24" r="1.75"/>
<circle cx="101.85" cy="239.03" r="1.75"/>
<circle cx="98.05" cy="238.14" r="1.75"/>
<circle cx="97.95" cy="244.11" r="1.75"/>
<circle cx="98.61" cy="236.81" r="1.75"/>
<circle cx="100.04" cy="238.98" r="1.75"/>
<circle cx="103.46" cy="237.35" r="1.75"/>
<circle cx="95.43" cy="250" r="1.75"/>
<circle cx="99.93" cy="242.22" r="1.75"/>
<circle cx="98.42" cy="244.63" r="1.75"/>
<circle cx="103.53" cy="255.05" r="1.75"/>
<circle cx="100.84" cy="246.82" r="1.75"/>
<circle cx="98.28" cy="238.65" r="1.75"/>
<circle cx="99.37" cy="244.17" r="1.75"/>
<circle cx="95.55" cy="254.62" r="1.75"/>
<circle cx="103.97" cy="237.3" r="1.75"/>
<circle cx="98.58" cy="248.16" r="1.75"/>
<line x1="37.4" y1="311" x2="121.7" y2="225.5" stroke="#ff0000" stroke-width="2" stroke-dasharray="6.6 5.6"/>
<rect x="26.6" y="188.7" width="98.1" height="14.2" fill="#fff"/>
<rect x="25.1" y="202.4" width="68.1" height="21.6" fill="#fff"/>
<rect x="28.3" y="239.2" width="10" height="37.5" fill="#fff"/>
<rect x="97" y="290.4" width="61.6" height="24.2" fill="#fff"/>
<rect x="104.1" y="317.5" width="51" height="11" fill="#fff"/>
<text x="28.6" y="198.7" font-size="9.4" font-weight="bold" text-anchor="start" textLength="93.6" lengthAdjust="spacing">Training - DT-FireFly</text>
<rect x="28.6" y="200.1" width="93.6" height="1.4" fill="#333"/>
<text x="28.1" y="211.9" font-size="8" text-anchor="start" textLength="61.5" lengthAdjust="spacingAndGlyphs" fill="#404040" stroke="#404040" stroke-width="0.15">y = 0.94x + 145.88</text>
<text x="43.9" y="221.2" font-size="8" fill="#404040" stroke="#404040" stroke-width="0.15" textLength="30.5" lengthAdjust="spacingAndGlyphs">R<tspan font-size="5" dy="-2.8">2</tspan><tspan dy="2.8"> = 0.86</tspan></text>
<text transform="translate(36.4,257.95) rotate(-90)" x="0" y="0" font-size="8.1" font-weight="bold" text-anchor="middle" textLength="33.5" lengthAdjust="spacingAndGlyphs">Predicted</text>
<line x1="102.3" y1="296.5" x2="124.5" y2="296.5" stroke="#1e1e1e" stroke-width="0.95" stroke-dasharray="3.4 2.8"/>
<line x1="102.3" y1="307.6" x2="121.1" y2="307.6" stroke="#ff0000" stroke-width="2" stroke-dasharray="6.8 5.2"/>
<text x="127.9" y="298.8" font-size="8" text-anchor="start" textLength="19.7" lengthAdjust="spacingAndGlyphs" fill="#404040" stroke="#404040" stroke-width="0.15">±15%</text>
<text x="128.4" y="310.6" font-size="8" text-anchor="start" textLength="25.6" lengthAdjust="spacingAndGlyphs" fill="#404040" stroke="#404040" stroke-width="0.15">Best Fit</text>
<text x="106.1" y="325.9" font-size="8.1" font-weight="bold" text-anchor="start" textLength="47" lengthAdjust="spacingAndGlyphs">Experimental</text>
</g>
<g>
<line x1="196.5" y1="187.05" x2="196.5" y2="330.6" stroke="#e8e8e8" stroke-width="1.2"/>
<line x1="196.5" y1="330.6" x2="330.2" y2="330.6" stroke="#e8e8e8" stroke-width="1.2"/>
<line x1="241.07" y1="187.05" x2="241.07" y2="330.6" stroke="#e8e8e8" stroke-width="1.2"/>
<line x1="196.5" y1="282.75" x2="330.2" y2="282.75" stroke="#e8e8e8" stroke-width="1.2"/>
<line x1="285.63" y1="187.05" x2="285.63" y2="330.6" stroke="#e8e8e8" stroke-width="1.2"/>
<line x1="196.5" y1="234.9" x2="330.2" y2="234.9" stroke="#e8e8e8" stroke-width="1.2"/>
<line x1="330.2" y1="187.05" x2="330.2" y2="330.6" stroke="#e8e8e8" stroke-width="1.2"/>
<line x1="196.5" y1="187.05" x2="330.2" y2="187.05" stroke="#e8e8e8" stroke-width="1.2"/>
<line x1="196.5" y1="330.9" x2="330.2" y2="330.9" stroke="#d4d4d4" stroke-width="1"/>
<text x="196.5" y="343.6" font-size="7.9" text-anchor="middle" fill="#333" stroke="#333" stroke-width="0.15">1500</text>
<text x="189.9" y="333.9" font-size="7.9" text-anchor="end" fill="#333" stroke="#333" stroke-width="0.15">1500</text>
<text x="241.07" y="343.6" font-size="7.9" text-anchor="middle" fill="#333" stroke="#333" stroke-width="0.15">2000</text>
<text x="189.9" y="286.05" font-size="7.9" text-anchor="end" fill="#333" stroke="#333" stroke-width="0.15">2000</text>
<text x="285.63" y="343.6" font-size="7.9" text-anchor="middle" fill="#333" stroke="#333" stroke-width="0.15">2500</text>
<text x="189.9" y="238.2" font-size="7.9" text-anchor="end" fill="#333" stroke="#333" stroke-width="0.15">2500</text>
<text x="330.2" y="343.6" font-size="7.9" text-anchor="middle" fill="#333" stroke="#333" stroke-width="0.15">3000</text>
<text x="189.9" y="190.35" font-size="7.9" text-anchor="end" fill="#333" stroke="#333" stroke-width="0.15">3000</text>
<clipPath id="c_den_val"><rect x="196.5" y="187.05" width="133.7" height="143.55"/></clipPath>
<g clip-path="url(#c_den_val)">
<line x1="196.5" y1="305.27" x2="274.94" y2="206.19" stroke="#1e1e1e" stroke-width="1.1" stroke-dasharray="3.4 2.8" stroke-dashoffset="5"/>
<line x1="220.09" y1="330.6" x2="312.37" y2="246.38" stroke="#1e1e1e" stroke-width="1.1" stroke-dasharray="3.4 2.8" stroke-dashoffset="3.1"/>
</g>
<circle cx="246.3" cy="267" r="1.55" fill="none" stroke="#333" stroke-width="0.7"/>
<circle cx="246.9" cy="273.7" r="1.55" fill="none" stroke="#333" stroke-width="0.7"/>
<circle cx="262.2" cy="252.2" r="1.55" fill="none" stroke="#333" stroke-width="0.7"/>
<circle cx="269.3" cy="256.8" r="1.55" fill="none" stroke="#333" stroke-width="0.7"/>
<circle cx="273.7" cy="257.4" r="1.55" fill="none" stroke="#333" stroke-width="0.7"/>
<circle cx="271.8" cy="237.6" r="1.55" fill="none" stroke="#333" stroke-width="0.7"/>
<circle cx="272.6" cy="241.1" r="1.55" fill="none" stroke="#333" stroke-width="0.7"/>
<circle cx="274.5" cy="243" r="1.55" fill="none" stroke="#333" stroke-width="0.7"/>
<circle cx="277" cy="242.6" r="1.55" fill="none" stroke="#333" stroke-width="0.7"/>
<circle cx="280.8" cy="243.4" r="1.55" fill="none" stroke="#333" stroke-width="0.7"/>
<circle cx="271.2" cy="248.8" r="1.55" fill="none" stroke="#333" stroke-width="0.7"/>
<circle cx="274.1" cy="249.7" r="1.55" fill="none" stroke="#333" stroke-width="0.7"/>
<circle cx="277" cy="249.7" r="1.55" fill="none" stroke="#333" stroke-width="0.7"/>
<circle cx="273.2" cy="245.9" r="1.55" fill="none" stroke="#333" stroke-width="0.7"/>
<circle cx="276" cy="245.9" r="1.55" fill="none" stroke="#333" stroke-width="0.7"/>
<circle cx="294.2" cy="225.4" r="1.55" fill="none" stroke="#333" stroke-width="0.7"/>
<circle cx="273.4" cy="244.2" r="1.55" fill="none" stroke="#333" stroke-width="0.7"/>
<circle cx="276.2" cy="243.2" r="1.55" fill="none" stroke="#333" stroke-width="0.7"/>
<circle cx="275.2" cy="248.6" r="1.55" fill="none" stroke="#333" stroke-width="0.7"/>
<circle cx="277.8" cy="246.8" r="1.55" fill="none" stroke="#333" stroke-width="0.7"/>
<circle cx="272" cy="249.9" r="1.55" fill="none" stroke="#333" stroke-width="0.7"/>
<line x1="246.3" y1="270.7" x2="294.2" y2="229.5" stroke="#ff0000" stroke-width="2" stroke-dasharray="6.6 5.6"/>
<rect x="202" y="189.5" width="104.4" height="14.7" fill="#fff"/>
<rect x="201.4" y="208" width="68.1" height="21.2" fill="#fff"/>
<rect x="200.2" y="240.9" width="10" height="37.2" fill="#fff"/>
<rect x="268.5" y="292.5" width="61.6" height="24.1" fill="#fff"/>
<rect x="277.8" y="317.5" width="51.2" height="11" fill="#fff"/>
<text x="204" y="199.5" font-size="9.4" font-weight="bold" text-anchor="start" textLength="99.9" lengthAdjust="spacing">Validation - DT-FireFly</text>
<rect x="204" y="201.4" width="99.9" height="1.4" fill="#333"/>
<text x="204.4" y="217.5" font-size="8" text-anchor="start" textLength="61.5" lengthAdjust="spacingAndGlyphs" fill="#404040" stroke="#404040" stroke-width="0.15">y = 0.80x + 480.82</text>
<text x="220.1" y="226.4" font-size="8" fill="#404040" stroke="#404040" stroke-width="0.15" textLength="30.5" lengthAdjust="spacingAndGlyphs">R<tspan font-size="5" dy="-2.8">2</tspan><tspan dy="2.8"> = 0.76</tspan></text>
<text transform="translate(208.3,259.5) rotate(-90)" x="0" y="0" font-size="8.1" font-weight="bold" text-anchor="middle" textLength="33.2" lengthAdjust="spacingAndGlyphs">Predicted</text>
<line x1="273.8" y1="298.5" x2="295.7" y2="298.5" stroke="#1e1e1e" stroke-width="0.95" stroke-dasharray="3.4 2.8"/>
<line x1="273.8" y1="309.7" x2="292.6" y2="309.7" stroke="#ff0000" stroke-width="2" stroke-dasharray="6.8 5.2"/>
<text x="299.9" y="300.8" font-size="8" text-anchor="start" textLength="19.7" lengthAdjust="spacingAndGlyphs" fill="#404040" stroke="#404040" stroke-width="0.15">±15%</text>
<text x="299.9" y="312.6" font-size="8" text-anchor="start" textLength="25.6" lengthAdjust="spacingAndGlyphs" fill="#404040" stroke="#404040" stroke-width="0.15">Best Fit</text>
<text x="279.8" y="325.9" font-size="8.1" font-weight="bold" text-anchor="start" textLength="47.2" lengthAdjust="spacingAndGlyphs">Experimental</text>
</g>
<g>
<line x1="365.4" y1="185.9" x2="365.4" y2="330.4" stroke="#e8e8e8" stroke-width="1.2"/>
<line x1="365.4" y1="330.4" x2="506.1" y2="330.4" stroke="#e8e8e8" stroke-width="1.2"/>
<line x1="412.3" y1="185.9" x2="412.3" y2="330.4" stroke="#e8e8e8" stroke-width="1.2"/>
<line x1="365.4" y1="282.23" x2="506.1" y2="282.23" stroke="#e8e8e8" stroke-width="1.2"/>
<line x1="459.2" y1="185.9" x2="459.2" y2="330.4" stroke="#e8e8e8" stroke-width="1.2"/>
<line x1="365.4" y1="234.07" x2="506.1" y2="234.07" stroke="#e8e8e8" stroke-width="1.2"/>
<line x1="506.1" y1="185.9" x2="506.1" y2="330.4" stroke="#e8e8e8" stroke-width="1.2"/>
<line x1="365.4" y1="185.9" x2="506.1" y2="185.9" stroke="#e8e8e8" stroke-width="1.2"/>
<line x1="365.4" y1="330.7" x2="506.1" y2="330.7" stroke="#d4d4d4" stroke-width="1"/>
<text x="365.4" y="343.4" font-size="7.9" text-anchor="middle" fill="#333" stroke="#333" stroke-width="0.15">0</text>
<text x="358.8" y="333.7" font-size="7.9" text-anchor="end" fill="#333" stroke="#333" stroke-width="0.15">0</text>
<text x="412.3" y="343.4" font-size="7.9" text-anchor="middle" fill="#333" stroke="#333" stroke-width="0.15">120</text>
<text x="358.8" y="285.53" font-size="7.9" text-anchor="end" fill="#333" stroke="#333" stroke-width="0.15">120</text>
<text x="459.2" y="343.4" font-size="7.9" text-anchor="middle" fill="#333" stroke="#333" stroke-width="0.15">240</text>
<text x="358.8" y="237.37" font-size="7.9" text-anchor="end" fill="#333" stroke="#333" stroke-width="0.15">240</text>
<text x="506.1" y="343.4" font-size="7.9" text-anchor="middle" fill="#333" stroke="#333" stroke-width="0.15">360</text>
<text x="358.8" y="189.2" font-size="7.9" text-anchor="end" fill="#333" stroke="#333" stroke-width="0.15">360</text>
<clipPath id="c_sl_train"><rect x="365.4" y="185.9" width="140.7" height="144.5"/></clipPath>
<g clip-path="url(#c_sl_train)">
<line x1="365.4" y1="330.4" x2="485" y2="185.9" stroke="#1e1e1e" stroke-width="1.1" stroke-dasharray="3.4 2.8" stroke-dashoffset="3.1"/>
<line x1="365.4" y1="330.4" x2="506.1" y2="207.57" stroke="#1e1e1e" stroke-width="1.1" stroke-dasharray="3.4 2.8" stroke-dashoffset="3.1"/>
</g>
<circle cx="371.2" cy="319.3" r="1.75"/>
<circle cx="373.2" cy="325.4" r="1.75"/>
<circle cx="375.2" cy="326.4" r="1.75"/>
<circle cx="377.7" cy="324.4" r="1.75"/>
<circle cx="375.2" cy="317.8" r="1.75"/>
<circle cx="375.2" cy="314.3" r="1.75"/>
<circle cx="378.2" cy="319.3" r="1.75"/>
<circle cx="378.7" cy="309.2" r="1.75"/>
<circle cx="380.3" cy="308.7" r="1.75"/>
<circle cx="382.3" cy="309.7" r="1.75"/>
<circle cx="381.3" cy="318.3" r="1.75"/>
<circle cx="382.8" cy="317.8" r="1.75"/>
<circle cx="384.3" cy="314.8" r="1.75"/>
<circle cx="385.3" cy="309.2" r="1.75"/>
<circle cx="386.3" cy="305.1" r="1.75"/>
<circle cx="386.8" cy="302.1" r="1.75"/>
<circle cx="388.9" cy="303.1" r="1.75"/>
<circle cx="388.9" cy="308.2" r="1.75"/>
<circle cx="390.9" cy="305.6" r="1.75"/>
<circle cx="391.4" cy="298.5" r="1.75"/>
<circle cx="393.9" cy="301.6" r="1.75"/>
<circle cx="392.4" cy="307.2" r="1.75"/>
<circle cx="396.2" cy="305.3" r="1.75"/>
<circle cx="400.3" cy="304.9" r="1.75"/>
<circle cx="402.8" cy="297.6" r="1.75"/>
<circle cx="400.3" cy="290.5" r="1.75"/>
<circle cx="402" cy="290.5" r="1.75"/>
<circle cx="398.7" cy="286.4" r="1.75"/>
<circle cx="404.5" cy="284.8" r="1.75"/>
<circle cx="404.5" cy="280.7" r="1.75"/>
<circle cx="403.6" cy="293" r="1.75"/>
<circle cx="408.6" cy="274.1" r="1.75"/>
<circle cx="409.4" cy="282.3" r="1.75"/>
<circle cx="411" cy="281.5" r="1.75"/>
<circle cx="414.3" cy="283.2" r="1.75"/>
<circle cx="412.7" cy="291" r="1.75"/>
<circle cx="415.1" cy="271.6" r="1.75"/>
<circle cx="420.1" cy="274.9" r="1.75"/>
<circle cx="430.8" cy="266.3" r="1.75"/>
<circle cx="419.7" cy="274.1" r="1.75"/>
<circle cx="420.9" cy="273.5" r="1.75"/>
<circle cx="415.3" cy="271" r="1.75"/>
<circle cx="415.3" cy="272.9" r="1.75"/>
<circle cx="407.9" cy="274.5" r="1.75"/>
<circle cx="404.2" cy="280.3" r="1.75"/>
<circle cx="410.4" cy="281.5" r="1.75"/>
<circle cx="414.7" cy="281.9" r="1.75"/>
<circle cx="414.1" cy="283.6" r="1.75"/>
<circle cx="409.8" cy="284.6" r="1.75"/>
<circle cx="404.2" cy="285.2" r="1.75"/>
<circle cx="398.1" cy="285.8" r="1.75"/>
<circle cx="399.9" cy="289.5" r="1.75"/>
<circle cx="402.4" cy="288.3" r="1.75"/>
<circle cx="401.8" cy="292" r="1.75"/>
<circle cx="402.4" cy="293.8" r="1.75"/>
<circle cx="412.3" cy="291.4" r="1.75"/>
<circle cx="402.4" cy="297.5" r="1.75"/>
<circle cx="443.6" cy="243.8" r="1.75"/>
<circle cx="439.9" cy="254.2" r="1.75"/>
<circle cx="430.9" cy="266.4" r="1.75"/>
<circle cx="471" cy="205.4" r="1.75"/>
<circle cx="473" cy="206.5" r="1.75"/>
<circle cx="471.4" cy="209" r="1.75"/>
<circle cx="470.5" cy="210.3" r="1.75"/>
<circle cx="476.3" cy="213.1" r="1.75"/>
<circle cx="472.2" cy="215.6" r="1.75"/>
<circle cx="472.2" cy="217.2" r="1.75"/>
<circle cx="474.7" cy="219.7" r="1.75"/>
<circle cx="475.5" cy="220.5" r="1.75"/>
<circle cx="469.7" cy="224.6" r="1.75"/>
<circle cx="470.5" cy="226.3" r="1.75"/>
<circle cx="469.4" cy="227.1" r="1.75"/>
<circle cx="472.2" cy="232.9" r="1.75"/>
<circle cx="471.4" cy="234" r="1.75"/>
<circle cx="473" cy="232" r="1.75"/>
<line x1="369.8" y1="325.6" x2="476.4" y2="214.4" stroke="#ff0000" stroke-width="2" stroke-dasharray="6.6 5.6"/>
<rect x="373" y="188.3" width="97.6" height="14.1" fill="#fff"/>
<rect x="374.5" y="201.1" width="58.3" height="21.3" fill="#fff"/>
<rect x="374.4" y="239.2" width="10" height="37.5" fill="#fff"/>
<rect x="443.6" y="290.2" width="61.6" height="24.4" fill="#fff"/>
<rect x="450.3" y="317.5" width="51.2" height="11" fill="#fff"/>
<text x="375" y="198.3" font-size="9.4" font-weight="bold" text-anchor="start" textLength="93.1" lengthAdjust="spacing">Training - DT-FireFly</text>
<rect x="375" y="199.6" width="93.1" height="1.4" fill="#333"/>
<text x="377.5" y="210.6" font-size="8" text-anchor="start" textLength="51.7" lengthAdjust="spacingAndGlyphs" fill="#404040" stroke="#404040" stroke-width="0.15">y = 1.02x - 0.13</text>
<text x="388.3" y="219.6" font-size="8" fill="#404040" stroke="#404040" stroke-width="0.15" textLength="31" lengthAdjust="spacingAndGlyphs">R<tspan font-size="5" dy="-2.8">2</tspan><tspan dy="2.8"> = 0.97</tspan></text>
<text transform="translate(382.5,257.95) rotate(-90)" x="0" y="0" font-size="8.1" font-weight="bold" text-anchor="middle" textLength="33.5" lengthAdjust="spacingAndGlyphs">Predicted</text>
<line x1="448.9" y1="296.5" x2="470.8" y2="296.5" stroke="#1e1e1e" stroke-width="0.95" stroke-dasharray="3.4 2.8"/>
<line x1="448.9" y1="307.6" x2="467.4" y2="307.6" stroke="#ff0000" stroke-width="2" stroke-dasharray="6.8 5.2"/>
<text x="474.5" y="298.7" font-size="8" text-anchor="start" textLength="19.7" lengthAdjust="spacingAndGlyphs" fill="#404040" stroke="#404040" stroke-width="0.15">±15%</text>
<text x="474.5" y="310.6" font-size="8" text-anchor="start" textLength="25.6" lengthAdjust="spacingAndGlyphs" fill="#404040" stroke="#404040" stroke-width="0.15">Best Fit</text>
<text x="452.3" y="325.9" font-size="8.1" font-weight="bold" text-anchor="start" textLength="47.2" lengthAdjust="spacingAndGlyphs">Experimental</text>
</g>
<g>
<line x1="538.5" y1="186.8" x2="538.5" y2="330.8" stroke="#e8e8e8" stroke-width="1.2"/>
<line x1="538.5" y1="330.8" x2="679.2" y2="330.8" stroke="#e8e8e8" stroke-width="1.2"/>
<line x1="585.4" y1="186.8" x2="585.4" y2="330.8" stroke="#e8e8e8" stroke-width="1.2"/>
<line x1="538.5" y1="282.8" x2="679.2" y2="282.8" stroke="#e8e8e8" stroke-width="1.2"/>
<line x1="632.3" y1="186.8" x2="632.3" y2="330.8" stroke="#e8e8e8" stroke-width="1.2"/>
<line x1="538.5" y1="234.8" x2="679.2" y2="234.8" stroke="#e8e8e8" stroke-width="1.2"/>
<line x1="679.2" y1="186.8" x2="679.2" y2="330.8" stroke="#e8e8e8" stroke-width="1.2"/>
<line x1="538.5" y1="186.8" x2="679.2" y2="186.8" stroke="#e8e8e8" stroke-width="1.2"/>
<line x1="538.5" y1="331.1" x2="679.2" y2="331.1" stroke="#d4d4d4" stroke-width="1"/>
<text x="538.5" y="343.8" font-size="7.9" text-anchor="middle" fill="#333" stroke="#333" stroke-width="0.15">0</text>
<text x="531.9" y="334.1" font-size="7.9" text-anchor="end" fill="#333" stroke="#333" stroke-width="0.15">0</text>
<text x="585.4" y="343.8" font-size="7.9" text-anchor="middle" fill="#333" stroke="#333" stroke-width="0.15">120</text>
<text x="531.9" y="286.1" font-size="7.9" text-anchor="end" fill="#333" stroke="#333" stroke-width="0.15">120</text>
<text x="632.3" y="343.8" font-size="7.9" text-anchor="middle" fill="#333" stroke="#333" stroke-width="0.15">240</text>
<text x="531.9" y="238.1" font-size="7.9" text-anchor="end" fill="#333" stroke="#333" stroke-width="0.15">240</text>
<text x="679.2" y="343.8" font-size="7.9" text-anchor="middle" fill="#333" stroke="#333" stroke-width="0.15">360</text>
<text x="531.9" y="190.1" font-size="7.9" text-anchor="end" fill="#333" stroke="#333" stroke-width="0.15">360</text>
<clipPath id="c_sl_val"><rect x="538.5" y="186.8" width="140.7" height="144"/></clipPath>
<g clip-path="url(#c_sl_val)">
<line x1="538.5" y1="330.8" x2="658.1" y2="186.8" stroke="#1e1e1e" stroke-width="1.1" stroke-dasharray="3.4 2.8" stroke-dashoffset="3.1"/>
<line x1="538.5" y1="330.8" x2="679.2" y2="208.4" stroke="#1e1e1e" stroke-width="1.1" stroke-dasharray="3.4 2.8" stroke-dashoffset="3.1"/>
</g>
<circle cx="544.4" cy="322.5" r="1.55" fill="none" stroke="#333" stroke-width="0.7"/>
<circle cx="546.5" cy="322.7" r="1.55" fill="none" stroke="#333" stroke-width="0.7"/>
<circle cx="550.8" cy="323.9" r="1.55" fill="none" stroke="#333" stroke-width="0.7"/>
<circle cx="544.4" cy="329.1" r="1.55" fill="none" stroke="#333" stroke-width="0.7"/>
<circle cx="543.7" cy="326.3" r="1.55" fill="none" stroke="#333" stroke-width="0.7"/>
<circle cx="548.7" cy="316.3" r="1.55" fill="none" stroke="#333" stroke-width="0.7"/>
<circle cx="554.4" cy="306.4" r="1.55" fill="none" stroke="#333" stroke-width="0.7"/>
<circle cx="554.8" cy="310.2" r="1.55" fill="none" stroke="#333" stroke-width="0.7"/>
<circle cx="555.8" cy="312.8" r="1.55" fill="none" stroke="#333" stroke-width="0.7"/>
<circle cx="572.2" cy="290.7" r="1.55" fill="none" stroke="#333" stroke-width="0.7"/>
<circle cx="571" cy="294.2" r="1.55" fill="none" stroke="#333" stroke-width="0.7"/>
<circle cx="573.6" cy="293.5" r="1.55" fill="none" stroke="#333" stroke-width="0.7"/>
<circle cx="575.7" cy="292.1" r="1.55" fill="none" stroke="#333" stroke-width="0.7"/>
<circle cx="575" cy="297.8" r="1.55" fill="none" stroke="#333" stroke-width="0.7"/>
<circle cx="578.9" cy="282.9" r="1.55" fill="none" stroke="#333" stroke-width="0.7"/>
<circle cx="581.2" cy="281.5" r="1.55" fill="none" stroke="#333" stroke-width="0.7"/>
<circle cx="585.3" cy="285.6" r="1.55" fill="none" stroke="#333" stroke-width="0.7"/>
<circle cx="585.3" cy="287.7" r="1.55" fill="none" stroke="#333" stroke-width="0.7"/>
<circle cx="571.4" cy="291.1" r="1.55" fill="none" stroke="#333" stroke-width="0.7"/>
<circle cx="573.4" cy="293.2" r="1.55" fill="none" stroke="#333" stroke-width="0.7"/>
<circle cx="574.8" cy="297.3" r="1.55" fill="none" stroke="#333" stroke-width="0.7"/>
<circle cx="610.3" cy="247.8" r="1.55" fill="none" stroke="#333" stroke-width="0.7"/>
<circle cx="622" cy="244.1" r="1.55" fill="none" stroke="#333" stroke-width="0.7"/>
<circle cx="644.2" cy="206.2" r="1.55" fill="none" stroke="#333" stroke-width="0.7"/>
<circle cx="645.8" cy="211.1" r="1.55" fill="none" stroke="#333" stroke-width="0.7"/>
<circle cx="645.3" cy="217.7" r="1.55" fill="none" stroke="#333" stroke-width="0.7"/>
<circle cx="645.3" cy="225.4" r="1.55" fill="none" stroke="#333" stroke-width="0.7"/>
<line x1="543.8" y1="325.2" x2="646.5" y2="214.3" stroke="#ff0000" stroke-width="2" stroke-dasharray="6.6 5.6"/>
<rect x="548.6" y="189.5" width="104.9" height="14.4" fill="#fff"/>
<rect x="552" y="203.2" width="58.4" height="21.1" fill="#fff"/>
<rect x="546.6" y="240.5" width="10" height="37.6" fill="#fff"/>
<rect x="614.6" y="292.5" width="61.6" height="23.9" fill="#fff"/>
<rect x="623.9" y="316.9" width="51.1" height="11" fill="#fff"/>
<text x="550.6" y="199.5" font-size="9.4" font-weight="bold" text-anchor="start" textLength="100.4" lengthAdjust="spacing">Validation - DT-FireFly</text>
<rect x="550.6" y="201.1" width="100.4" height="1.4" fill="#333"/>
<text x="555" y="212.7" font-size="8" text-anchor="start" textLength="51.8" lengthAdjust="spacingAndGlyphs" fill="#404040" stroke="#404040" stroke-width="0.15">y = 1.06x - 1.89</text>
<text x="565.9" y="221.5" font-size="8" fill="#404040" stroke="#404040" stroke-width="0.15" textLength="30.2" lengthAdjust="spacingAndGlyphs">R<tspan font-size="5" dy="-2.8">2</tspan><tspan dy="2.8"> = 0.98</tspan></text>
<text transform="translate(554.7,259.3) rotate(-90)" x="0" y="0" font-size="8.1" font-weight="bold" text-anchor="middle" textLength="33.6" lengthAdjust="spacingAndGlyphs">Predicted</text>
<line x1="619.9" y1="298.5" x2="642.1" y2="298.5" stroke="#1e1e1e" stroke-width="0.95" stroke-dasharray="3.4 2.8"/>
<line x1="619.9" y1="309.7" x2="638.8" y2="309.7" stroke="#ff0000" stroke-width="2" stroke-dasharray="6.8 5.2"/>
<text x="646.4" y="300.8" font-size="8" text-anchor="start" textLength="19.7" lengthAdjust="spacingAndGlyphs" fill="#404040" stroke="#404040" stroke-width="0.15">±15%</text>
<text x="646.4" y="312.4" font-size="8" text-anchor="start" textLength="25.6" lengthAdjust="spacingAndGlyphs" fill="#404040" stroke="#404040" stroke-width="0.15">Best Fit</text>
<text x="625.9" y="325.3" font-size="8.1" font-weight="bold" text-anchor="start" textLength="47.1" lengthAdjust="spacingAndGlyphs">Experimental</text>
</g>
<text x="141.5" y="177.9" font-size="16" text-anchor="start" textLength="59.2" lengthAdjust="spacingAndGlyphs" stroke="#000" stroke-width="0.15">a) For Fc</text>
<text x="489.4" y="177.9" font-size="16" text-anchor="start" textLength="56.6" lengthAdjust="spacingAndGlyphs" stroke="#000" stroke-width="0.15">b) For Ft</text>
<text x="124.7" y="361.6" font-size="16" text-anchor="start" textLength="92.6" lengthAdjust="spacingAndGlyphs" stroke="#000" stroke-width="0.15">c) For Density</text>
<text x="474.5" y="361.6" font-size="16" text-anchor="start" textLength="86.9" lengthAdjust="spacingAndGlyphs" stroke="#000" stroke-width="0.15">d) For Slump</text>
</svg>
</body></html>
